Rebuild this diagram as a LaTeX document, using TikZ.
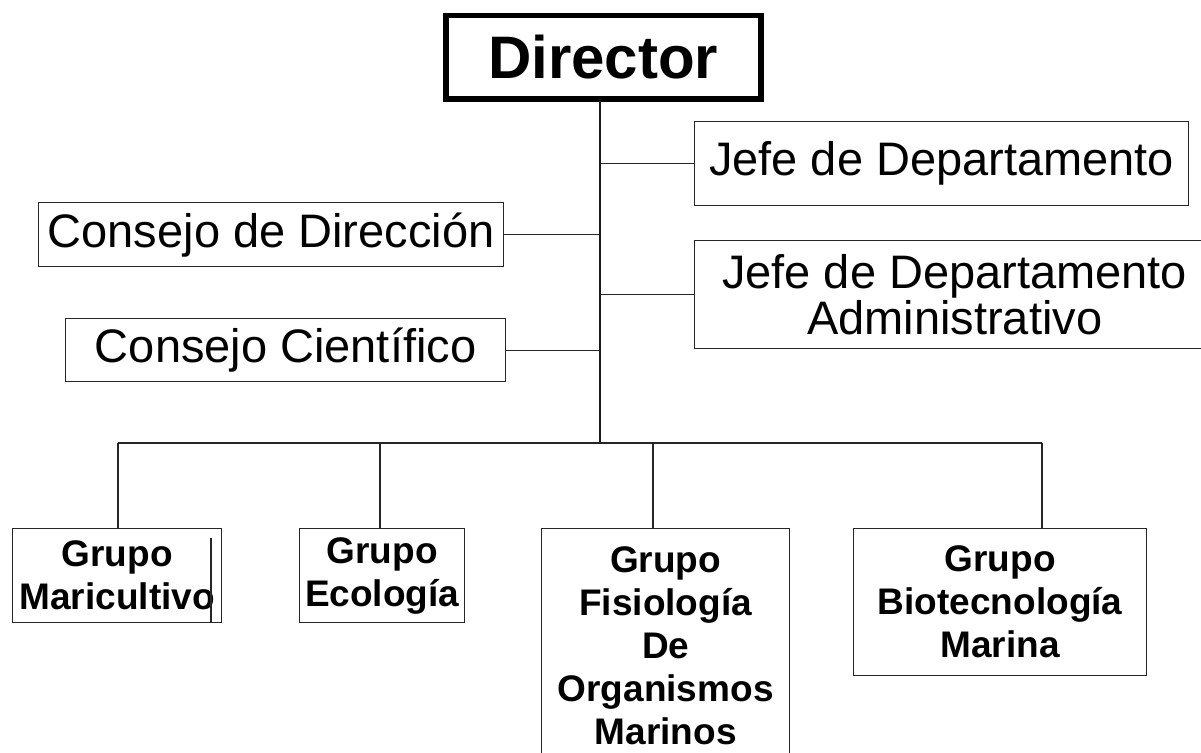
\documentclass[tikz,border=0pt]{standalone}
\usepackage{fontspec}
\setmainfont{Liberation Sans}
\begin{document}
\begin{tikzpicture}[x=1pt,y=-1pt,
  box/.style={draw=black!85, line width=1.3pt, inner sep=2pt, anchor=north west, align=center},
  bigbox/.style={draw=black, line width=5.5pt, inner sep=2pt, anchor=north west, align=center},
  reg/.style={font=\fontsize{47}{46}\selectfont},
  grp/.style={font=\fontsize{37}{43}\selectfont\bfseries},
  wire/.style={draw=black!85, line width=1.3pt},
  trunkw/.style={draw=black!90, line width=2.2pt}]
\useasboundingbox (0,0) rectangle (1201,752);
% nodes
\node[bigbox, minimum width=315pt, minimum height=83pt, font=\fontsize{60}{62}\selectfont\bfseries] (dir) at (443,13) {Director};
\node[box, reg, minimum width=494pt, minimum height=84pt] (jefe) at (694,121) {Jefe de Departamento};
\node[box, reg, minimum width=465pt, minimum height=64pt] (cdir) at (38,202) {Consejo de Dirección};
\node[box, reg, minimum width=520pt, minimum height=108pt] (adm) at (694,240) {Jefe de Departamento\\Administrativo};
\node[box, reg, minimum width=440pt, minimum height=63pt] (ccie) at (65,318) {Consejo Científico};
\node[box, grp, minimum width=209pt, minimum height=94pt] (mar) at (12,528) {Grupo\\Maricultivo};
\node[box, grp, minimum width=165pt, minimum height=94pt] (eco) at (299,528) {Grupo\\Ecología};
\node[box, grp, minimum width=248pt, minimum height=234pt] (fis) at (541,528) {Grupo\\Fisiología\\De\\Organismos\\Marinos};
\node[box, grp, minimum width=293pt, minimum height=147pt] (bio) at (853,528) {Grupo\\Biotecnología\\Marina};
% coordinates
\coordinate (ttop) at (600,99);
\coordinate (tbot) at (600,443);
\coordinate (b1) at (118,443);
\coordinate (b2) at (380,443);
\coordinate (b3) at (653,443);
\coordinate (b4) at (1042,443);
% connectors
\draw[trunkw] (ttop) -- (tbot);
\draw[wire] (b1) -- (b4);
\draw[wire] (jefe.west) -- (jefe.west -| ttop);
\draw[wire] (adm.west) -- (adm.west -| ttop);
\draw[wire] (cdir.east) -- (cdir.east -| ttop);
\draw[wire] (ccie.east) -- (ccie.east -| ttop);
\draw[wire] (b1) -- (b1 |- mar.north);
\draw[wire] (b2) -- (b2 |- eco.north);
\draw[wire] (b3) -- (b3 |- fis.north);
\draw[wire] (b4) -- (b4 |- bio.north);
% stray line inside the Maricultivo box
\coordinate (mx) at (211,538);
\draw[wire] (mx) -- (mx |- mar.south);
\end{tikzpicture}
\end{document}
